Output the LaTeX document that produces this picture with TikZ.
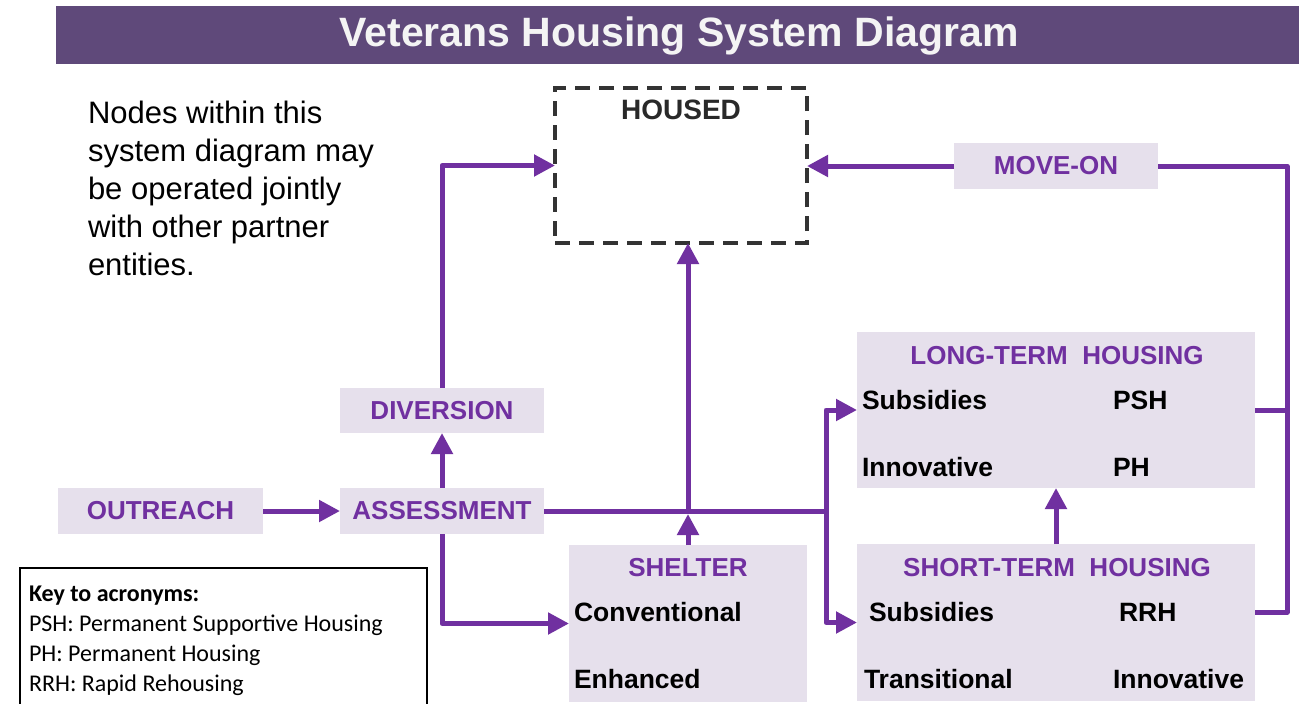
\documentclass[tikz,border=0pt]{standalone}
\usepackage{fontspec}
\setmainfont{Liberation Sans}
\newfontfamily\keyfont{Carlito}
\usetikzlibrary{arrows.meta}
\definecolor{bannerpurple}{HTML}{5F497A}
\definecolor{flowpurple}{HTML}{7030A0}
\definecolor{boxfill}{HTML}{E6E0EC}
\definecolor{dashgray}{HTML}{333333}
\definecolor{titlewhite}{HTML}{F4F4F4}

\begin{document}
\begin{tikzpicture}[x=1pt,y=-1pt,
  every node/.style={inner sep=0pt, outer sep=0pt},
  stagebox/.style={fill=boxfill, draw=none},
  stagelabel/.style={font=\fontsize{26}{30}\selectfont\bfseries, text=flowpurple},
  itemlabel/.style={font=\fontsize{26.5}{30}\selectfont\bfseries, text=black, anchor=west},
  flow/.style={draw=flowpurple, line width=5pt, line join=round},
  flowarrow/.style={flow, -{Triangle[length=21pt,width=21pt]}},
]
\useasboundingbox (0,0) rectangle (1299,704);
\fill[white] (0,0) rectangle (1299,704);

% title banner
\fill[bannerpurple] (56,6) rectangle (1299,64);
\node[font=\fontsize{41}{44}\selectfont\bfseries, text=titlewhite] (title) at (679,36) {Veterans Housing System Diagram};

% explanatory note
\node[anchor=north west, align=left, font=\fontsize{31}{38}\selectfont] (note) at (88,101)
  {Nodes within this\\system diagram may\\be operated jointly\\with other partner\\entities.};

% housed (dashed outline)
\node[draw=dashgray, line width=3.5pt, dash pattern=on 15pt off 9pt,
      minimum width=252pt, minimum height=155pt] (housed) at (681,165.5) {};
\node[font=\fontsize{28}{32}\selectfont\bfseries, text=dashgray!80!black] (housedlabel) at (681,110) {HOUSED};

% single-label stages
\node[stagebox, stagelabel, minimum width=204pt, minimum height=46pt] (moveon) at (1056,166) {MOVE-ON};
\node[stagebox, stagelabel, minimum width=204pt, minimum height=45pt] (diversion) at (442,410.5) {DIVERSION};
\node[stagebox, stagelabel, minimum width=205pt, minimum height=46pt] (outreach) at (160.5,511) {OUTREACH};
\node[stagebox, stagelabel, minimum width=204pt, minimum height=46pt] (assessment) at (442,511) {ASSESSMENT};

% shelter
\node[stagebox, minimum width=238pt, minimum height=157pt] (shelter) at (688,623.5) {};
\node[stagelabel] (sheltertitle) at (688,568) {SHELTER};
\node[itemlabel] (conventional) at (574,612) {Conventional};
\node[itemlabel] (enhanced) at (574,679) {Enhanced};

% long-term housing
\node[stagebox, minimum width=398pt, minimum height=156pt] (longterm) at (1056,410) {};
\node[stagelabel] (longtitle) at (1057,356) {LONG-TERM\ \ HOUSING};
\node[itemlabel] (ltsub) at (862,400) {Subsidies};
\node[itemlabel] (ltpsh) at (1113,400) {PSH};
\node[itemlabel] (ltinno) at (862,467) {Innovative};
\node[itemlabel] (ltph) at (1113,467) {PH};

% short-term housing
\node[stagebox, minimum width=398pt, minimum height=157pt] (shortterm) at (1056,622.5) {};
\node[stagelabel] (shorttitle) at (1057,568) {SHORT-TERM\ \ HOUSING};
\node[itemlabel] (stsub) at (869,612) {Subsidies};
\node[itemlabel] (strrh) at (1119,612) {RRH};
\node[itemlabel] (sttrans) at (864,679) {Transitional};
\node[itemlabel] (stinno) at (1113,679) {Innovative};

% routing points
\coordinate (split) at (826,511);
\coordinate (splittop) at (826,410);
\coordinate (splitbot) at (826,622.5);
\coordinate (cross) at (688,514);
\coordinate (rtop) at (1287,166);
\coordinate (rmid) at (1287,410);
\coordinate (rbot) at (1287,612);

% connectors
\draw[flowarrow] (outreach) -- (assessment);
\draw[flowarrow] (assessment) -- (diversion);
\draw[flowarrow] (diversion.north) |- (housed.west);
\draw[flowarrow] (assessment.south) |- (shelter.west);
\draw[flow] (assessment.east) -- (split);
\draw[flowarrow] (split) -- (splittop) -- (longterm.west);
\draw[flowarrow] (split) -- (splitbot) -- (shortterm.west);
\draw[flowarrow] (shelter.north) -- (cross);
\draw[flowarrow] (cross) -- (cross |- housed.south);
\draw[flowarrow] (shortterm) -- (longterm);
\draw[flowarrow] (moveon.west) -- (moveon.west -| housed.east);
\draw[flow] (moveon.east) -- (rtop) -- (rbot) -- (shortterm.east |- rbot);
\draw[flow] (longterm.east) -- (rmid);

% key to acronyms
\node[draw=black, line width=1.5pt, anchor=north west, minimum width=407pt, minimum height=160pt] (keybox) at (20,568) {};
\node[anchor=north west, align=left, font=\keyfont\fontsize{24}{30}\selectfont] (keytext) at (29,586)
  {\textbf{Key to acronyms:}\\PSH: Permanent Supportive Housing\\PH: Permanent Housing\\RRH: Rapid Rehousing};
\end{tikzpicture}
\end{document}
